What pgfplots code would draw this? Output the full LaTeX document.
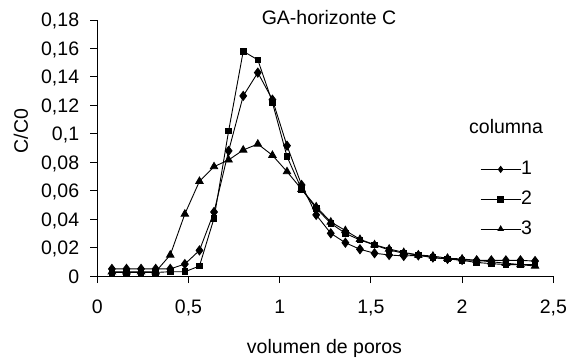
\documentclass[border=0pt]{standalone}
\usepackage{fontspec}
\setmainfont{Liberation Sans}
\usepackage{pgfplots}
\pgfplotsset{compat=1.18}
\begin{document}
\fontsize{19.5bp}{23bp}\selectfont
\begin{tikzpicture}[x=1bp,y=1bp]
\useasboundingbox (0,0) rectangle (569,360);
\begin{axis}[
  at={(97.3bp,84bp)}, anchor=south west,
  scale only axis, width=456bp, height=256bp,
  xmin=0, xmax=2.5, ymin=0, ymax=0.18,
  xtick={0,0.5,1,1.5,2,2.5},
  ytick={0,0.02,0.04,0.06,0.08,0.1,0.12,0.14,0.16,0.18},
  axis lines=left,
  axis line style={-, line width=0.9bp},
  tick style={black, line width=0.9bp},
  tick align=outside,
  major tick length=7bp,
  /pgf/number format/.cd, use comma, fixed, precision=2, assume math mode=true,
  /pgfplots/.cd,
  tick label style={font=\fontsize{19.5bp}{23bp}\selectfont, inner sep=0pt},
  xticklabel style={anchor=base, yshift=-30bp},
  yticklabel style={anchor=base east, xshift=-11bp, yshift=-7bp},
  legend style={draw=none, fill=none, at={(0.8393,0.449)}, anchor=north west,
    font=\fontsize{19.5bp}{23bp}\selectfont, row sep=13.3bp, inner sep=0pt,
    nodes={inner sep=0pt}},
  legend cell align=left,
  legend image code/.code={
    \draw[#1] (0bp,0bp) -- (40bp,0bp);
    \draw[#1, only marks, mark size=3bp] plot coordinates {(20bp,0bp)};
  },
  clip=false,
]
\addplot[black, line width=0.9bp, mark=diamond*, mark size=4.5bp, mark options={fill=black}] coordinates {
(0.08,0.005)(0.16,0.005)(0.24,0.005)(0.32,0.005)(0.40,0.005)(0.48,0.0084)
(0.56,0.018)(0.64,0.045)(0.72,0.088)(0.80,0.1266)(0.88,0.143)(0.96,0.124)
(1.04,0.0916)(1.12,0.064)(1.20,0.043)(1.28,0.030)(1.36,0.0234)(1.44,0.0188)
(1.52,0.016)(1.60,0.0148)(1.68,0.0141)(1.76,0.0145)(1.84,0.013)(1.92,0.012)
(2.00,0.0113)(2.08,0.011)(2.16,0.011)(2.24,0.011)(2.32,0.011)(2.40,0.0105)};
\addlegendentry{1}
\addplot[black, line width=0.9bp, mark=square*, mark size=2.8bp, mark options={fill=black}] coordinates {
(0.08,0.0025)(0.16,0.0025)(0.24,0.0025)(0.32,0.0025)(0.40,0.003)(0.48,0.003)
(0.56,0.007)(0.64,0.0406)(0.72,0.102)(0.80,0.158)(0.88,0.152)(0.96,0.122)
(1.04,0.084)(1.12,0.061)(1.20,0.0476)(1.28,0.037)(1.36,0.030)(1.44,0.0253)
(1.52,0.0218)(1.60,0.0183)(1.68,0.016)(1.76,0.0148)(1.84,0.013)(1.92,0.012)
(2.00,0.011)(2.08,0.0095)(2.16,0.0087)(2.24,0.008)(2.32,0.008)(2.40,0.008)};
\addlegendentry{2}
\addplot[black, line width=0.9bp, mark=triangle*, mark size=4.2bp, mark options={fill=black}] coordinates {
(0.08,0.003)(0.16,0.003)(0.24,0.003)(0.32,0.003)(0.40,0.0148)(0.48,0.0436)
(0.56,0.0666)(0.64,0.0769)(0.72,0.0816)(0.80,0.0886)(0.88,0.0928)(0.96,0.0849)
(1.04,0.0734)(1.12,0.061)(1.20,0.0487)(1.28,0.038)(1.36,0.032)(1.44,0.0258)
(1.52,0.022)(1.60,0.019)(1.68,0.0166)(1.76,0.0148)(1.84,0.014)(1.92,0.0125)
(2.00,0.012)(2.08,0.011)(2.16,0.010)(2.24,0.009)(2.32,0.008)(2.40,0.007)};
\addlegendentry{3}
\end{axis}
\node[anchor=base, inner sep=0pt] at (329,335.5) {GA-horizonte C};
\node[anchor=base west, inner sep=0pt] at (469,227) {columna};
\node[rotate=90, inner sep=0pt] at (21,229) {C/C0};
\node[anchor=base, inner sep=0pt] at (324.5,7) {volumen de poros};
\end{tikzpicture}
\end{document}
